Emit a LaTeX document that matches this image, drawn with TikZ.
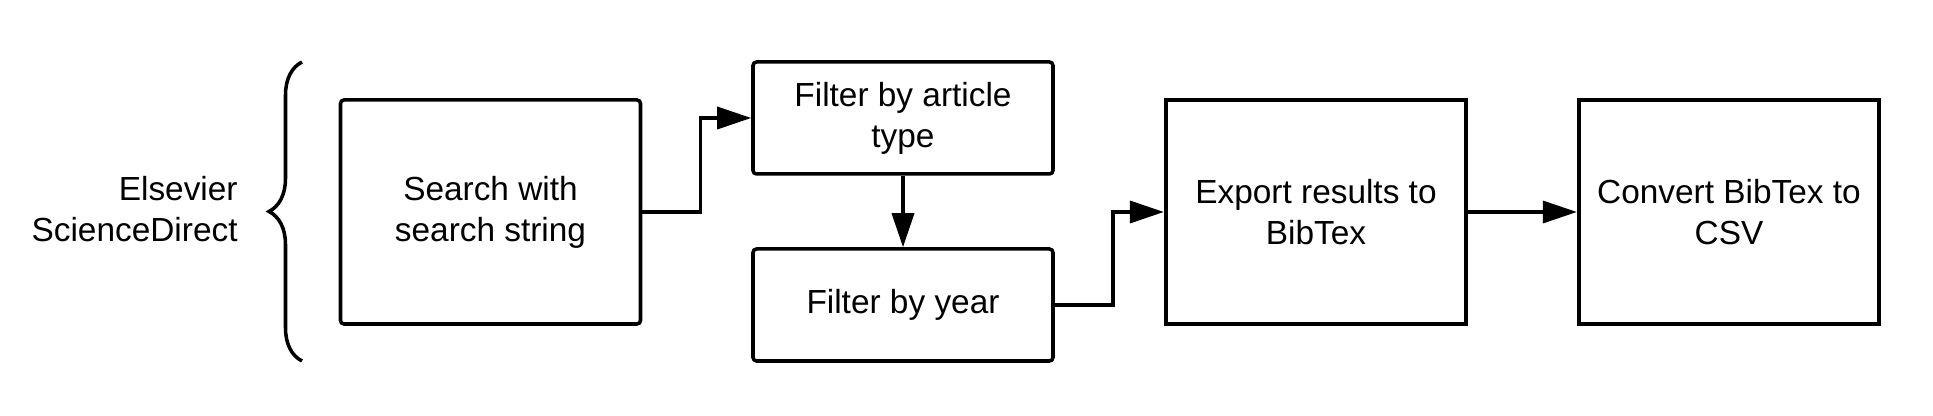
\documentclass[tikz,border=0pt]{standalone}
\usepackage{fontspec}
\setmainfont{Liberation Sans}
\usetikzlibrary{arrows.meta}
\usetikzlibrary{decorations.pathreplacing}

\begin{document}
\begin{tikzpicture}[
  font=\fontsize{9.5}{11.6}\selectfont,
  stepbox/.style={draw, line width=1pt, rounded corners=1pt, align=center,
    minimum width=3cm, minimum height=2.24cm, inner sep=0pt},
  filterbox/.style={stepbox, minimum height=1.12cm},
  link/.style={line width=1pt, -{Triangle[length=3.4mm,width=2.2mm]}}
]
\useasboundingbox (0,0) rectangle (19.33,4.16);
\node [anchor=east, align=right] (source) at (2.50,2.07) {Elsevier\\ScienceDirect};
\draw[line width=1pt, decorate, decoration={brace, amplitude=3.3mm}] (3.02,0.55) -- (3.02,3.54);
\node [stepbox] (search) at (4.905,2.04) {Search with\\search string};
\node [filterbox] (filtype) at (9.03,2.98) {Filter by article\\type};
\node [filterbox] (filyear) at (9.03,1.11) {Filter by year};
\node [stepbox, sharp corners, line width=1.2pt] (export) at (13.16,2.04) {Export results to\\BibTex};
\node [stepbox, sharp corners, line width=1.2pt] (convert) at (17.29,2.04) {Convert BibTex to\\CSV};
\draw[link] (search.east) -- ++(0.58,0) |- (filtype.west);
\draw[link] (filtype.south) -- (filyear.north);
\draw[link] (filyear.east) -- ++(0.58,0) |- (export.west);
\draw[link] (export.east) -- (convert.west);
\end{tikzpicture}
\end{document}
